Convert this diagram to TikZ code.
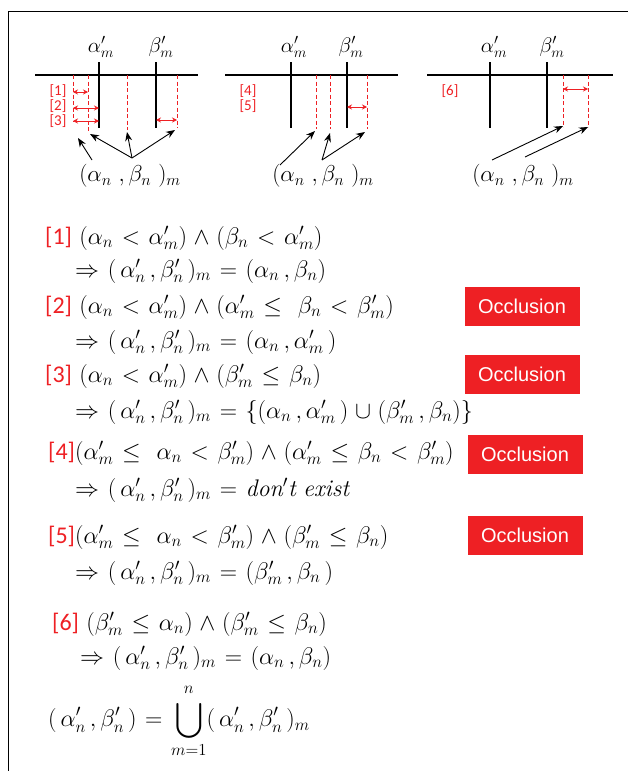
\documentclass[tikz,border=0pt]{standalone}
\usepackage{fix-cm}
\usepackage{amsmath}
\usepackage{exscale}
\usepackage{fontspec}
\newfontfamily\arialf{Liberation Sans}
\newfontfamily\calf{Carlito}
\usetikzlibrary{arrows.meta}
\definecolor{myred}{HTML}{EE2024}
\newcommand{\rtag}[1]{{\calf\fontsize{24}{28}\selectfont\color{myred}[#1]}}
\begin{document}
\begin{tikzpicture}[x=1pt,y=-1pt,
  axis/.style={line width=1.3pt},
  vbar/.style={line width=1.3pt},
  dsh/.style={myred,line width=0.8pt,dash pattern=on 4pt off 2.5pt},
  redarr/.style={myred,line width=1pt,{Stealth[length=5pt,width=5pt]}-{Stealth[length=5pt,width=5pt]}},
  blkarr/.style={line width=0.9pt,-{Stealth[length=9pt,width=7pt]}},
  lab/.style={inner sep=0pt,font=\fontsize{21}{24}\selectfont},
  plab/.style={inner sep=0pt,font=\fontsize{23}{26}\selectfont},
  tagn/.style={text=myred,inner sep=0pt,font=\calf\fontsize{15}{17}\selectfont},
  fml/.style={anchor=west,inner sep=0pt,font=\fontsize{24}{28}\selectfont,
    execute at begin node={\thickmuskip=6.5mu plus 2mu\medmuskip=5mu plus 2mu}},
  occ/.style={fill=myred,text=white,minimum width=115pt,minimum height=39pt,inner sep=0pt,font=\arialf\fontsize{20}{24}\selectfont}
]
\useasboundingbox (0,0) rectangle (628,771);
% frame
\coordinate (fb) at (8,771); \coordinate (ftl) at (8,11); \coordinate (ftr) at (628,11);
\draw[line width=1pt] (fb) -- (ftl) -- (ftr);

% ---------- diagram 1 ----------
\coordinate (h1a) at (35,75); \coordinate (h1b) at (198,75);
\draw[axis] (h1a) -- (h1b);
\coordinate (a1t) at (99,62); \coordinate (a1b) at (99,128);
\coordinate (b1t) at (156,62); \coordinate (b1b) at (156,128);
\draw[vbar] (a1t) -- (a1b); \draw[vbar] (b1t) -- (b1b);
\node[lab] (la1) at (101,47) {$\alpha'_m$};
\node[lab] (lb1) at (161,47) {$\beta'_m$};
\coordinate (d11t) at (73,75); \coordinate (d11b) at (73,122);
\coordinate (d12t) at (88,75); \coordinate (d12b) at (88,133);
\coordinate (d13t) at (127,75); \coordinate (d13b) at (127,130);
\coordinate (d14t) at (177,75); \coordinate (d14b) at (177,128);
\draw[dsh] (d11t) -- (d11b); \draw[dsh] (d12t) -- (d12b);
\draw[dsh] (d13t) -- (d13b); \draw[dsh] (d14t) -- (d14b);
\coordinate (r1a) at (73,92); \coordinate (r1b) at (88,92);
\coordinate (r2a) at (73,108); \coordinate (r2b) at (99,108);
\coordinate (r3a) at (73,121); \coordinate (r3b) at (99,121);
\coordinate (r4a) at (156,120); \coordinate (r4b) at (177,120);
\draw[redarr] (r1a) -- (r1b); \draw[redarr] (r2a) -- (r2b);
\draw[redarr] (r3a) -- (r3b); \draw[redarr] (r4a) -- (r4b);
\node[tagn] (t1) at (58,91) {[1]};
\node[tagn] (t2) at (58,106) {[2]};
\node[tagn] (t3) at (58,121) {[3]};
\node[plab] (p1) at (130,176) {$(\alpha_n\ ,\beta_n\ )_m$};
\coordinate (s1a) at (92,160); \coordinate (s1b) at (132,158);
\coordinate (e11) at (78,138); \coordinate (e12) at (90,134);
\coordinate (e13) at (127,132); \coordinate (e14) at (175,130);
\draw[blkarr] (s1a) -- (e11);
\draw[blkarr] (s1b) -- (e12);
\draw[blkarr] (s1b) -- (e13);
\draw[blkarr] (s1b) -- (e14);

% ---------- diagram 2 ----------
\coordinate (h2a) at (225,75); \coordinate (h2b) at (398,75);
\draw[axis] (h2a) -- (h2b);
\coordinate (a2t) at (291,62); \coordinate (a2b) at (291,128);
\coordinate (b2t) at (347,62); \coordinate (b2b) at (347,128);
\draw[vbar] (a2t) -- (a2b); \draw[vbar] (b2t) -- (b2b);
\node[lab] (la2) at (294,47) {$\alpha'_m$};
\node[lab] (lb2) at (351,47) {$\beta'_m$};
\coordinate (d21t) at (316,75); \coordinate (d21b) at (316,129);
\coordinate (d22t) at (330,75); \coordinate (d22b) at (330,129);
\coordinate (d23t) at (367,75); \coordinate (d23b) at (367,129);
\draw[dsh] (d21t) -- (d21b); \draw[dsh] (d22t) -- (d22b); \draw[dsh] (d23t) -- (d23b);
\coordinate (r5a) at (347,107); \coordinate (r5b) at (367,107);
\draw[redarr] (r5a) -- (r5b);
\node[tagn] (t4) at (248,91) {[4]};
\node[tagn] (t5) at (248,106) {[5]};
\node[plab] (p2) at (323,176) {$(\alpha_n\ ,\beta_n\ )_m$};
\coordinate (s2a) at (280,165); \coordinate (s2b) at (322,160);
\coordinate (e21) at (315,131); \coordinate (e22) at (330,133); \coordinate (e23) at (365,132);
\draw[blkarr] (s2a) -- (e21);
\draw[blkarr] (s2b) -- (e22);
\draw[blkarr] (s2b) -- (e23);

% ---------- diagram 3 ----------
\coordinate (h3a) at (427,75); \coordinate (h3b) at (613,75);
\draw[axis] (h3a) -- (h3b);
\coordinate (a3t) at (490,62); \coordinate (a3b) at (490,128);
\coordinate (b3t) at (547,62); \coordinate (b3b) at (547,128);
\draw[vbar] (a3t) -- (a3b); \draw[vbar] (b3t) -- (b3b);
\node[lab] (la3) at (494,47) {$\alpha'_m$};
\node[lab] (lb3) at (552,47) {$\beta'_m$};
\coordinate (d31t) at (563,75); \coordinate (d31b) at (563,127);
\coordinate (d32t) at (588,75); \coordinate (d32b) at (588,127);
\draw[dsh] (d31t) -- (d31b); \draw[dsh] (d32t) -- (d32b);
\coordinate (r6a) at (563,89); \coordinate (r6b) at (588,89);
\draw[redarr] (r6a) -- (r6b);
\node[tagn] (t6) at (450,91) {[6]};
\node[plab] (p3) at (523,176) {$(\alpha_n\ ,\beta_n\ )_m$};
\coordinate (s3a) at (492,160); \coordinate (s3b) at (525,157);
\coordinate (e31) at (563,126); \coordinate (e32) at (588,127);
\draw[blkarr] (s3a) -- (e31);
\draw[blkarr] (s3b) -- (e32);

% ---------- formulas ----------
\node[fml] (f1) at (45,238) {\rtag{1} $(\alpha_n<\alpha'_m)\wedge(\beta_n<\alpha'_m)$};
\node[fml] (f1b) at (75,271) {$\Rightarrow(\,\alpha'_n\,,\beta'_n\,)_m=(\alpha_n\,,\beta_n)$};
\node[fml] (f2) at (45,307) {\rtag{2} $(\alpha_n<\alpha'_m)\wedge(\alpha'_m\le\ \beta_n<\beta'_m)$};
\node[fml] (f2b) at (75,342) {$\Rightarrow(\,\alpha'_n\,,\beta'_n\,)_m=(\alpha_n\,,\alpha'_m\,)$};
\node[fml] (f3) at (45,376) {\rtag{3} $(\alpha_n<\alpha'_m)\wedge(\beta'_m\le\beta_n)$};
\node[fml] (f3b) at (75,412) {$\Rightarrow(\,\alpha'_n\,,\beta'_n\,)_m=\{(\alpha_n\,,\alpha'_m\,)\cup(\beta'_m\,,\beta_n)\}$};
\node[fml] (f4) at (48,453) {\rtag{4}$(\alpha'_m\le\ \alpha_n<\beta'_m)\wedge(\alpha'_m\le\beta_n<\beta'_m)$};
\node[fml] (f4b) at (75,490) {$\Rightarrow(\,\alpha'_n\,,\beta'_n\,)_m=\mathit{don't\ exist}$};
\node[fml] (f5) at (48,537) {\rtag{5}$(\alpha'_m\le\ \alpha_n<\beta'_m)\wedge(\beta'_m\le\beta_n)$};
\node[fml] (f5b) at (75,573) {$\Rightarrow(\,\alpha'_n\,,\beta'_n\,)_m=(\beta'_m\,,\beta_n\,)$};
\node[fml] (f6) at (52,624) {\rtag{6} $(\beta'_m\le\alpha_n)\wedge(\beta'_m\le\beta_n)$};
\node[fml] (f6b) at (80,658) {$\Rightarrow(\,\alpha'_n\,,\beta'_n\,)_m=(\alpha_n\,,\beta_n)$};
\node[fml] (f7) at (48,721) {$\displaystyle(\,\alpha'_n\,,\beta'_n\,)=\bigcup_{m=1}^{\rule[-4pt]{0pt}{0pt}n}(\,\alpha'_n\,,\beta'_n\,)_m$};

% ---------- occlusion boxes ----------
\node[occ] (o1) at (522,306) {Occlusion};
\node[occ] (o2) at (522,374) {Occlusion};
\node[occ] (o3) at (525,454) {Occlusion};
\node[occ] (o4) at (525,535) {Occlusion};
\end{tikzpicture}
\end{document}
